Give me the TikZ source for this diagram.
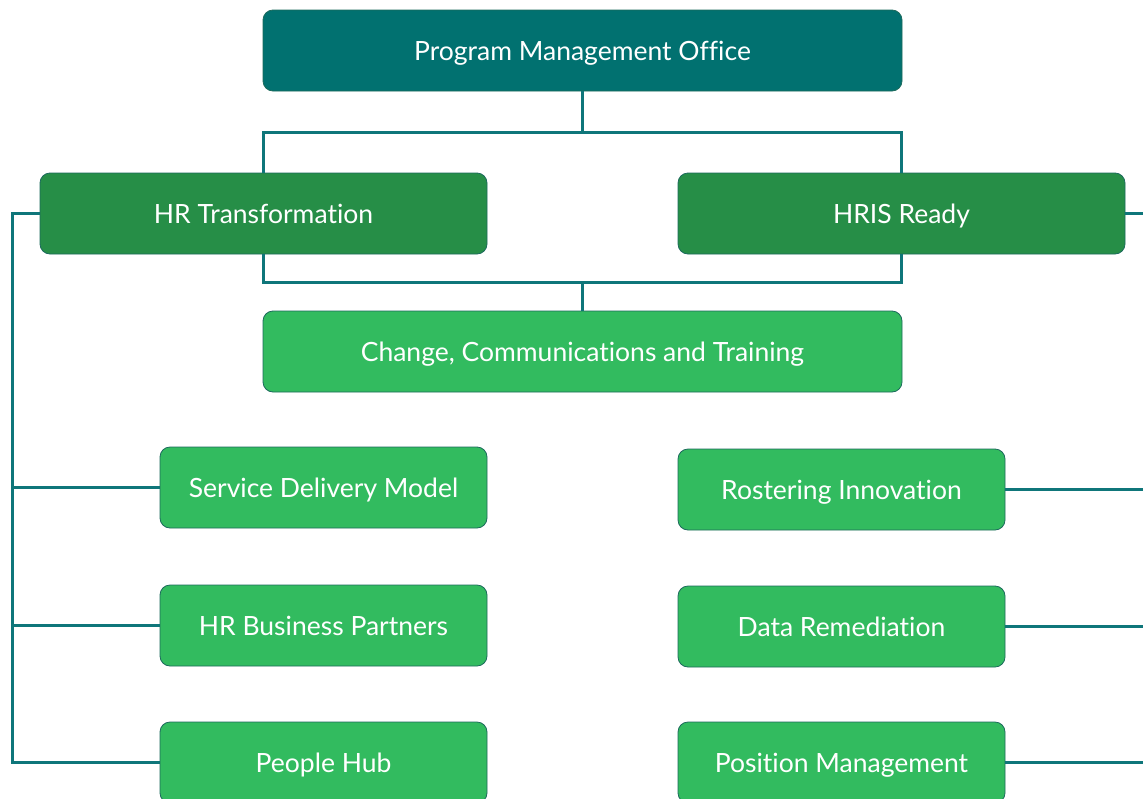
\documentclass[tikz,border=0pt]{standalone}
\usepackage{fontspec}
\setmainfont{Lato}[Ligatures=NoCommon]
\definecolor{pmoteal}{HTML}{017170}
\definecolor{darkgreen}{HTML}{268E47}
\definecolor{lightgreen}{HTML}{32BB5F}
\definecolor{linkteal}{HTML}{0F767A}
\definecolor{edgeteal}{HTML}{1C6A5C}
\begin{document}
\begin{tikzpicture}[x=1pt,y=-1pt,
  box/.style={rectangle, rounded corners=10pt, draw=edgeteal, line width=0.8pt,
    text=white, font=\fontsize{26.5}{30}\selectfont, inner sep=0pt,
    text height=21pt, text depth=2pt},
  wide/.style={box, minimum width=639pt, minimum height=81pt},
  mid/.style={box, minimum width=447pt, minimum height=81pt},
  narrow/.style={box, minimum width=327pt, minimum height=81pt},
  link/.style={draw=linkteal, line width=3pt}]
\useasboundingbox (0,0) rectangle (1143,798);
\fill[white] (0,0) rectangle (1143,798);
\clip (0,0) rectangle (1143,798);

% bus junctions of the connector network
\coordinate (topbus) at (582.5,132);
\coordinate (midbus) at (582.5,282);
\coordinate (lbus) at (12,213.5);
\coordinate (rbus) at (1160,213.5);

% boxes
\node[wide, fill=pmoteal] (pmo) at (582.5,50.5) {Program Management Office};
\node[mid, fill=darkgreen] (hrt) at (263.5,213.5) {HR Transformation};
\node[mid, fill=darkgreen] (hris) at (901.5,213.5) {HRIS Ready};
\node[wide, fill=lightgreen] (cct) at (582.5,351.5) {Change, Communications and Training};
\node[narrow, fill=lightgreen] (sdm) at (323.5,487.5) {Service Delivery Model};
\node[narrow, fill=lightgreen] (hrbp) at (323.5,625.5) {HR Business Partners};
\node[narrow, fill=lightgreen] (hub) at (323.5,762.5) {People Hub};
\node[narrow, fill=lightgreen] (rost) at (841.5,489.5) {Rostering Innovation};
\node[narrow, fill=lightgreen] (data) at (841.5,626.5) {Data Remediation};
\node[narrow, fill=lightgreen] (pos) at (841.5,762.5) {Position Management};

% connectors
\draw[link] (pmo.south) -- (topbus);
\draw[link] (hrt.north) |- (topbus) -| (hris.north);
\draw[link] (hrt.south) |- (midbus) -| (hris.south);
\draw[link] (midbus) -- (cct.north);
\draw[link] (hrt.west) -- (lbus) |- (hub.west);
\draw[link] (lbus |- sdm.west) -- (sdm.west);
\draw[link] (lbus |- hrbp.west) -- (hrbp.west);
\draw[link] (hris.east) -- (rbus) |- (pos.east);
\draw[link] (rbus |- rost.east) -- (rost.east);
\draw[link] (rbus |- data.east) -- (data.east);
\end{tikzpicture}
\end{document}
